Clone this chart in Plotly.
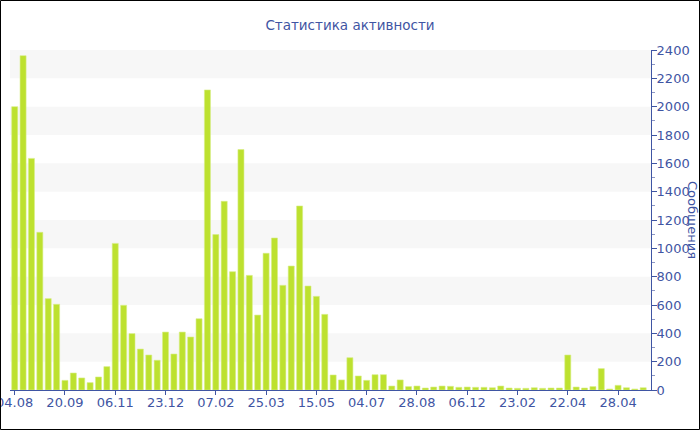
import plotly.graph_objects as go

# Data
values = [2000, 2360, 1635, 1113, 645, 605, 68, 120, 85, 52,
          92, 165, 1035, 598, 398, 289, 247, 210, 409, 254,
          409, 374, 503, 2118, 1097, 1332, 835, 1697, 809, 529,
          965, 1073, 739, 875, 1299, 734, 661, 534, 106, 71,
          228, 99, 68, 108, 108, 28, 71, 24, 28, 14,
          21, 28, 26, 19, 21, 19, 19, 16, 28, 14,
          12, 12, 16, 12, 14, 14, 247, 21, 14, 24,
          151, 7, 33, 16, 7, 16]
tick_labels = ["04.08", "20.09", "06.11", "23.12", "07.02", "25.03", "15.05",
               "04.07", "28.08", "06.12", "23.02", "22.04", "28.04"]
tick_step = 6
title_text = "Статистика активности"
y_title = "Сообщения"

x = list(range(len(values)))
tick_vals = [i * tick_step for i in range(len(tick_labels))]

blue = "#3f55a3"
font_family = "DejaVu Sans"

fig = go.Figure()
fig.add_trace(go.Bar(
    x=x, y=values,
    marker=dict(color="#bde12f", line=dict(color="#d6ee86", width=0.6)),
    hoverinfo="y",
))

# alternating bands
bands = [(200, 400), (600, 800), (1000, 1200), (1400, 1600), (1800, 2000), (2200, 2400)]
shapes = []
for y0, y1 in bands:
    shapes.append(dict(type="rect", xref="paper", yref="y", x0=0, x1=1, y0=y0, y1=y1,
                       fillcolor="#f7f7f7", line=dict(width=0), layer="below"))

ml, mr, mt, mb = 10, 49, 50, 40
W, H = 700, 430
pw, ph = W - ml - mr, H - mt - mb
shapes.append(dict(type="rect", xref="paper", yref="paper",
                   x0=(0.5 - ml) / pw, x1=(W - 0.5 - ml) / pw,
                   y0=-(mb - 0.5) / ph,
                   y1=(ph + mt - 0.5) / ph,
                   line=dict(color="black", width=1), fillcolor="rgba(0,0,0,0)", layer="above"))

fig.update_layout(
    width=W, height=H,
    margin=dict(l=ml, r=mr, t=mt, b=mb, autoexpand=False),
    paper_bgcolor="white", plot_bgcolor="white",
    font=dict(family=font_family, size=13, color=blue),
    title=dict(text=title_text, x=0.5, xref="container", xanchor="center",
               y=1 - 25 / H, yanchor="middle",
               font=dict(family=font_family, size=13.5, color=blue)),
    bargap=0.28,
    showlegend=False,
    shapes=shapes,
    annotations=[dict(text=y_title, xref="paper", yref="paper", x=(693 - ml) / pw, y=0.5,
                      textangle=90, showarrow=False, xanchor="center", yanchor="middle",
                      font=dict(family=font_family, size=13, color=blue))],
)
fig.update_xaxes(
    range=[-0.56, 75.93], tickmode="array", tickvals=tick_vals, ticktext=tick_labels,
    showgrid=False, zeroline=False, showline=True, linecolor=blue, linewidth=1,
    ticks="outside", ticklen=4, tickcolor=blue, tickfont=dict(size=13, color=blue),
    ticklabeloverflow="allow", ticklabelstandoff=-4, automargin=False,
)
fig.update_yaxes(
    side="right", range=[0, 2400], dtick=200, showgrid=False, zeroline=False,
    showline=True, linecolor=blue, linewidth=1,
    ticks="outside", ticklen=5, tickcolor=blue, tickfont=dict(size=13, color=blue),
    ticklabeloverflow="allow", automargin=False, ticklabelstandoff=-3,
    minor=dict(dtick=100, ticks="outside", ticklen=3, tickcolor="#8c97c4", showgrid=False),
)

fig.write_html("out.html", config={"displayModeBar": False},
               post_script="document.body.style.margin='0';document.body.style.overflow='hidden';")
